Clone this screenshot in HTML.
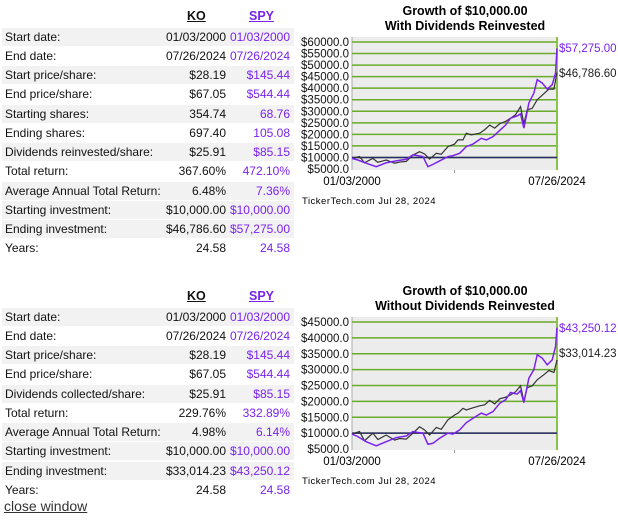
<!DOCTYPE html>
<html><head><meta charset="utf-8">
<style>
body{margin:0;width:618px;height:530px;background:#fff;font-family:"Liberation Sans",Arial,sans-serif;position:relative;overflow:hidden}
.t{position:absolute;left:0;width:296px;font-size:12px;color:#111}
.r{position:absolute;left:2px;width:292px;height:18px;line-height:18px}
.r.g{background:#f2f2f2}
.r span{position:absolute}
.l{left:3px}.k{right:68px}.s{right:4px;color:#7a22ee}
.h{position:absolute;font-weight:bold;text-decoration:underline;font-size:12.5px}
svg{position:absolute;left:0;top:0}
a{position:absolute;left:4px;top:498px;font-size:14px;color:#333;text-decoration:underline}
</style></head><body>
<div class="t" style="top:0">
<span class="h" style="left:187px;top:9px;color:#111">KO</span>
<span class="h" style="left:249px;top:9px;color:#7a22ee">SPY</span>
<div class="r g" style="top:28px"><span class="l">Start date:</span><span class="k">01/03/2000</span><span class="s">01/03/2000</span></div>
<div class="r" style="top:47px"><span class="l">End date:</span><span class="k">07/26/2024</span><span class="s">07/26/2024</span></div>
<div class="r g" style="top:66px"><span class="l">Start price/share:</span><span class="k">$28.19</span><span class="s">$145.44</span></div>
<div class="r" style="top:85px"><span class="l">End price/share:</span><span class="k">$67.05</span><span class="s">$544.44</span></div>
<div class="r g" style="top:105px"><span class="l">Starting shares:</span><span class="k">354.74</span><span class="s">68.76</span></div>
<div class="r" style="top:124px"><span class="l">Ending shares:</span><span class="k">697.40</span><span class="s">105.08</span></div>
<div class="r g" style="top:143px"><span class="l">Dividends reinvested/share:</span><span class="k">$25.91</span><span class="s">$85.15</span></div>
<div class="r" style="top:162px"><span class="l">Total return:</span><span class="k">367.60%</span><span class="s">472.10%</span></div>
<div class="r g" style="top:182px"><span class="l">Average Annual Total Return:</span><span class="k">6.48%</span><span class="s">7.36%</span></div>
<div class="r g" style="top:201px"><span class="l">Starting investment:</span><span class="k">$10,000.00</span><span class="s">$10,000.00</span></div>
<div class="r g" style="top:220px"><span class="l">Ending investment:</span><span class="k">$46,786.60</span><span class="s">$57,275.00</span></div>
<div class="r" style="top:239px"><span class="l">Years:</span><span class="k">24.58</span><span class="s">24.58</span></div>
</div>
<div class="t" style="top:280px">
<span class="h" style="left:187px;top:9px;color:#111">KO</span>
<span class="h" style="left:249px;top:9px;color:#7a22ee">SPY</span>
<div class="r g" style="top:28px"><span class="l">Start date:</span><span class="k">01/03/2000</span><span class="s">01/03/2000</span></div>
<div class="r" style="top:47px"><span class="l">End date:</span><span class="k">07/26/2024</span><span class="s">07/26/2024</span></div>
<div class="r g" style="top:66px"><span class="l">Start price/share:</span><span class="k">$28.19</span><span class="s">$145.44</span></div>
<div class="r" style="top:85px"><span class="l">End price/share:</span><span class="k">$67.05</span><span class="s">$544.44</span></div>
<div class="r g" style="top:105px"><span class="l">Dividends collected/share:</span><span class="k">$25.91</span><span class="s">$85.15</span></div>
<div class="r" style="top:124px"><span class="l">Total return:</span><span class="k">229.76%</span><span class="s">332.89%</span></div>
<div class="r g" style="top:143px"><span class="l">Average Annual Total Return:</span><span class="k">4.98%</span><span class="s">6.14%</span></div>
<div class="r g" style="top:162px"><span class="l">Starting investment:</span><span class="k">$10,000.00</span><span class="s">$10,000.00</span></div>
<div class="r g" style="top:182px"><span class="l">Ending investment:</span><span class="k">$33,014.23</span><span class="s">$43,250.12</span></div>
<div class="r" style="top:201px"><span class="l">Years:</span><span class="k">24.58</span><span class="s">24.58</span></div>
</div>
<a>close window</a>
<svg id="ch" width="618" height="530"></svg>
<script>
const koDates=[2000.0,2000.9,2001.5,2002.5,2003.1,2004.1,2005.1,2005.7,2006.5,2007.3,2008.1,2008.7,2009.3,2010.1,2010.7,2011.5,2012.3,2012.7,2013.3,2013.7,2014.3,2015.3,2015.9,2016.5,2017.1,2017.7,2018.4,2019.0,2019.6,2020.2,2020.6,2021.0,2021.6,2022.2,2023.0,2023.6,2024.2,2024.57];
const spyDates=[2000.0,2000.7,2001.7,2002.9,2004.1,2005.3,2006.5,2007.3,2007.9,2008.5,2009.1,2009.7,2010.5,2011.5,2012.1,2012.9,2013.7,2014.5,2015.5,2016.1,2016.9,2017.7,2018.4,2019.0,2019.8,2020.2,2020.6,2021.2,2021.8,2022.2,2022.8,2023.4,2024.0,2024.4,2024.57];
const koReinv=[9600,10400,7700,9600,7900,8900,7500,8000,8300,11000,12500,11500,9300,11800,11400,14700,15800,17600,17600,20500,19800,20500,22000,24000,22700,24600,25600,27000,28500,32000,24600,30600,31300,35000,37600,39600,39600,46786.6];
const spyReinv=[9600,8900,7500,6000,7700,8500,9200,11100,10800,10400,6000,7000,8500,10400,10800,11800,14700,15800,18300,17600,19000,21700,24000,27000,28000,28900,22700,33600,37900,43700,42200,39600,41500,46600,57275];
const koNoDiv=[9700,10500,7600,10000,8000,9400,7800,8300,8100,10000,12000,11000,9400,11800,11200,14200,15700,16300,17800,17300,17800,18600,18900,20300,19200,20800,21300,22000,23000,24900,20000,24300,24900,26800,28400,29700,29100,33014.23];
const spyNoDiv=[9700,8900,7300,6000,7300,8600,9100,10500,10200,10000,6500,6800,8400,10000,9700,11000,13300,14700,16300,15700,16800,19400,20500,22800,22300,23400,19600,27300,30000,34700,33600,31500,33100,37300,43250.12];
const ticks1=[5000,10000,15000,20000,25000,30000,35000,40000,45000,50000,55000,60000];
const ticks2=[5000,10000,15000,20000,25000,30000,35000,40000,45000];
const dateLabels=["01/03/2000","07/26/2024"];
const NS="http://www.w3.org/2000/svg";
const svg=document.getElementById('ch');
function mk(tag,attrs,parent,txt){const e=document.createElementNS(NS,tag);for(const k in attrs)e.setAttribute(k,attrs[k]);if(txt!==undefined)e.textContent=txt;(parent||svg).appendChild(e);return e;}
const F='Liberation Sans, Arial, sans-serif';
function chart(oy,title2,ticks,ko,spy,koLbl,spyLbl,nm){
  const g=mk('g',{});
  
  
  const x0=352,x1=557,yTop=oy+37,yBot=oy+170;
  const vMin=ticks[0],vMax=ticks[ticks.length-1];
  const yTopTick=oy+42,yBotTick=oy+169;
  const X=d=>x0+(d-2000)/(2024.57-2000)*(x1-x0);
  const Y=v=>yBotTick-(v-vMin)/(vMax-vMin)*(yBotTick-yTopTick);
  let t=mk('text',{x:465,y:oy+15,'text-anchor':'middle','font-size':'12.5','font-weight':'bold','font-family':F},g,'Growth of $10,000.00');
  
  mk('text',{x:465,y:oy+30,'text-anchor':'middle','font-size':'12.5','font-weight':'bold','font-family':F},g,title2);
  const bg=mk('rect',{x:x0,y:yTop,width:x1-x0,height:yBot-yTop,fill:'#ececec'},g);
  
  mk('line',{x1:x0,y1:yTop,x2:x0,y2:yBot,stroke:'#aaa','stroke-width':1},g);
  ticks.forEach(v=>{
    const y=Y(v);
    if(v>vMin){const gl=mk('line',{x1:x0,y1:y,x2:x1,y2:y,stroke:'#6aaa2a','stroke-width':1.5},g);
    }
    const tl=mk('text',{x:349,y:y+4,'text-anchor':'end','font-size':'11.5','font-family':F,fill:'#111'},g,'$'+v+'.0');
    
  });
  mk('line',{x1:x1,y1:yTop,x2:x1,y2:yBot,stroke:'#8bc34a','stroke-width':2},g);
  const bl=mk('line',{x1:x0,y1:Y(10000),x2:x1,y2:Y(10000),stroke:'#2a2a6a','stroke-width':1.5},g);
  
  mk('line',{x1:(x0+x1)/2,y1:yBot,x2:(x0+x1)/2,y2:yBot+3,stroke:'#999'},g);
  const p1=mk('polyline',{points:koDates.map((d,i)=>X(d)+','+Y(ko[i])).join(' '),fill:'none',stroke:'#333','stroke-width':1.2},g);
  
  const p2=mk('polyline',{points:spyDates.map((d,i)=>X(d)+','+Y(spy[i])).join(' '),fill:'none',stroke:'#7a22ee','stroke-width':1.5},g);
  
  const s=mk('text',{x:559,y:oy+52,'font-size':'11.5','font-family':F,fill:'#7a22ee'},g,spyLbl);
  
  const k=mk('text',{x:559,y:oy+77,'font-size':'11.5','font-family':F,fill:'#222'},g,koLbl);
  
  mk('text',{x:352,y:oy+185,'text-anchor':'middle','font-size':'11.5','font-family':F},g,dateLabels[0]);
  mk('text',{x:557,y:oy+185,'text-anchor':'middle','font-size':'11.5','font-family':F},g,dateLabels[1]);
  mk('text',{x:302,y:oy+204,'font-size':'9.5','font-family':F,'letter-spacing':'0.5'},g,'TickerTech.com  Jul 28, 2024');
}
chart(0,'With Dividends Reinvested',ticks1,koReinv,spyReinv,'$46,786.60','$57,275.00','chart-with-dividends');
chart(280,'Without Dividends Reinvested',ticks2,koNoDiv,spyNoDiv,'$33,014.23','$43,250.12','chart-without-dividends');
</script>
</body></html>
